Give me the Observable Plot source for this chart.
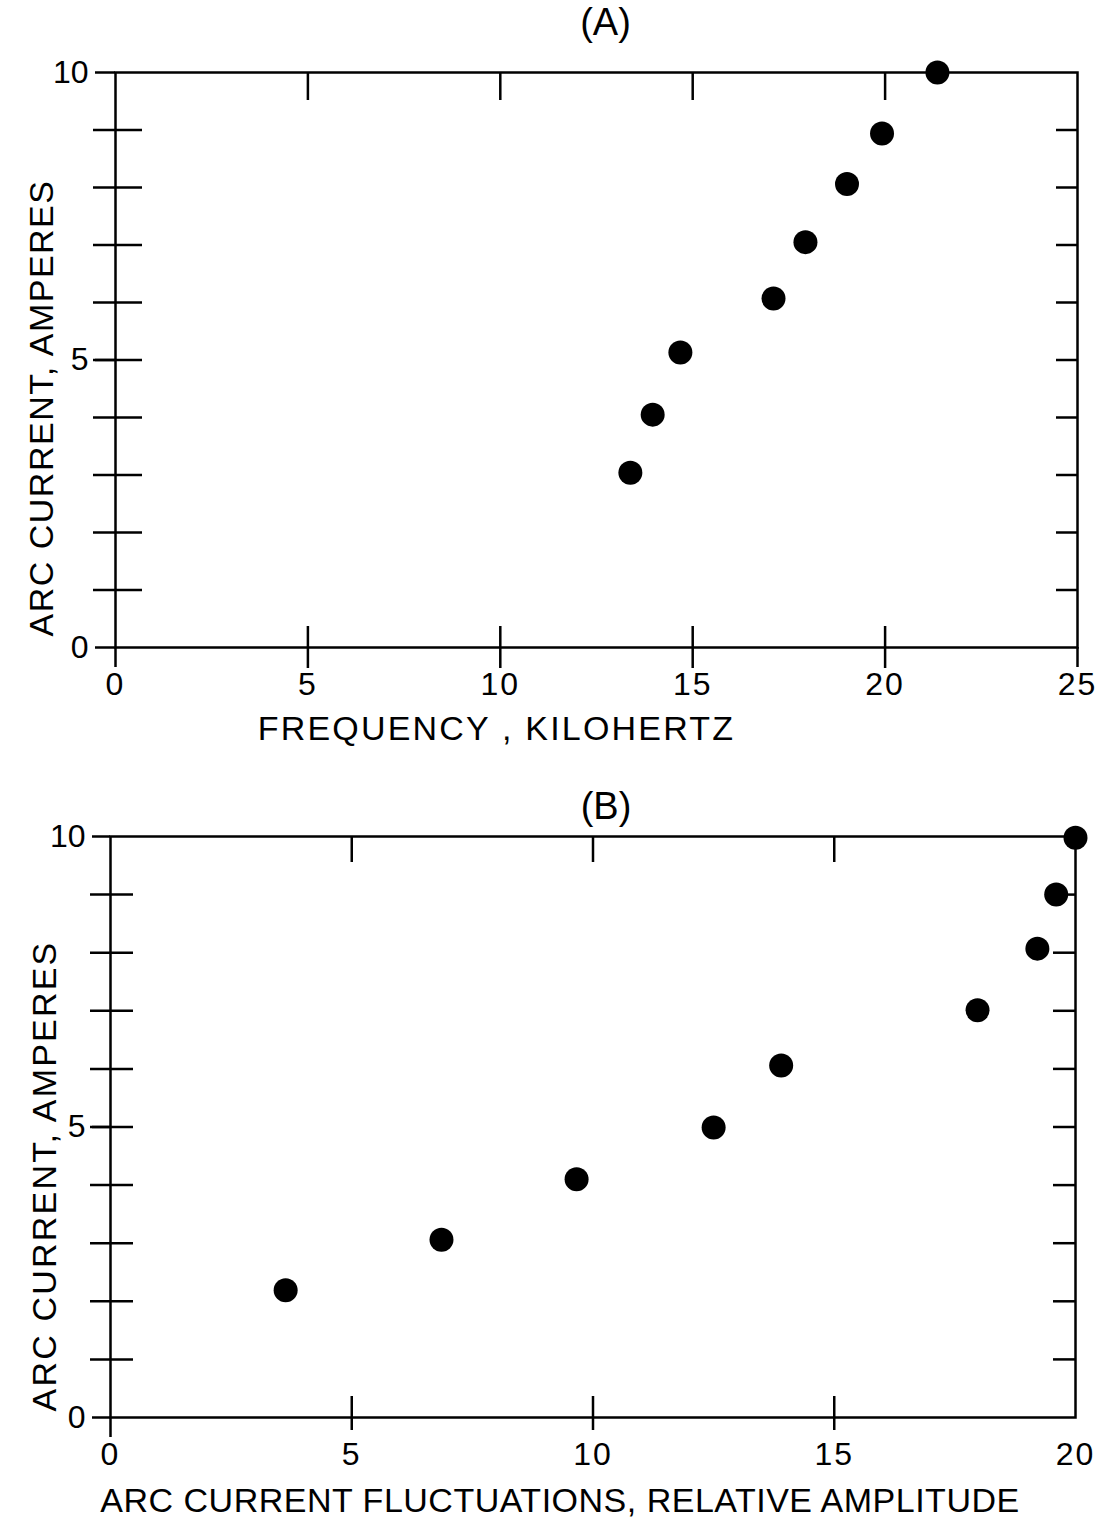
<!DOCTYPE html>
<html><head><meta charset="utf-8">
<script src="https://cdn.jsdelivr.net/npm/d3@7"></script>
<script src="https://cdn.jsdelivr.net/npm/@observablehq/plot@0.6"></script>
<style>
body{margin:0;background:#fff}
#chart svg{display:block}
[aria-label="x-title-A"], [aria-label="x-title-A"] text{letter-spacing:2.2px}
[aria-label="y-title-A"], [aria-label="y-title-A"] text{letter-spacing:1.5px}
[aria-label="x-title-B"], [aria-label="x-title-B"] text{letter-spacing:0.5px}
[aria-label="y-title-B"], [aria-label="y-title-B"] text{letter-spacing:2.2px}
g[aria-label="x-axis tick label"] text{letter-spacing:2px}
</style>
</head><body><div id="chart"></div>
<script>
// Panel (A): arc current vs frequency
const freqA = [13.38, 13.96, 14.68, 17.10, 17.93, 19.01, 19.92, 21.36];
const currentA = [3.04, 4.05, 5.13, 6.07, 7.05, 8.06, 8.94, 10.0];
// Panel (B): arc current vs relative amplitude of fluctuations
const fluctB = [3.63, 6.86, 9.66, 12.5, 13.9, 17.97, 19.21, 19.6, 20.0];
const currentB = [2.19, 3.06, 4.10, 4.99, 6.06, 7.01, 8.07, 9.0, 9.98];

const yLabelTicks = [0, 5, 10];
const yMinorTicks = [1, 2, 3, 4, 5, 6, 7, 8, 9];
const xLabelTicksA = [0, 5, 10, 15, 20, 25];
const xInnerTicksA = [5, 10, 15, 20];
const xLabelTicksB = [0, 5, 10, 15, 20];
const xInnerTicksB = [5, 10, 15];

const titleA = "(A)";
const titleB = "(B)";
const xTitleA = "FREQUENCY , KILOHERTZ";
const xTitleB = "ARC CURRENT FLUCTUATIONS, RELATIVE AMPLITUDE";
const yTitle = "ARC CURRENT, AMPERES";

const FONT = "Liberation Sans, DejaVu Sans, sans-serif";
const SW = 2.5;

function panel({id, xs, ys, xMax, xLabelTicks, xInner, title, xTitle, height, m, t}) {
  const data = xs.map((x, i) => ({x, y: ys[i]}));
  const svg = Plot.plot({
    width: 1108,
    height,
    marginTop: m.top, marginBottom: m.bottom, marginLeft: m.left, marginRight: m.right,
    x: {domain: [0, xMax], label: null},
    y: {domain: [0, 10], label: null},
    style: {fontFamily: FONT, fontSize: "32px", color: "black", background: "white"},
    marks: [
      Plot.frame({stroke: "black", strokeWidth: SW}),
      // left axis: crossing ticks
      Plot.axisY({anchor: "left", ticks: yMinorTicks, tickSize: t.leftOut + t.leftIn, insetLeft: t.leftIn, text: null, label: null, strokeWidth: SW}),
      // left axis: labelled stubs
      Plot.axisY({anchor: "left", ticks: yLabelTicks, tickSize: t.leftOut - 2, tickPadding: 7, label: null, strokeWidth: SW, fontSize: 32}),
      // right axis: inward ticks
      Plot.axisY({anchor: "right", ticks: yMinorTicks, tickSize: t.right, insetRight: t.right, text: null, label: null, strokeWidth: SW}),
      // top axis: inward ticks
      Plot.axisX({anchor: "top", ticks: xInner, tickSize: t.top, insetTop: t.top, text: null, label: null, strokeWidth: SW}),
      // bottom axis: crossing ticks
      Plot.axisX({anchor: "bottom", ticks: xInner, tickSize: t.botUp + t.botDown, insetBottom: t.botUp, text: null, label: null, strokeWidth: SW}),
      // bottom axis: labels
      Plot.axisX({anchor: "bottom", ticks: xLabelTicks, tickSize: 0, tickPadding: 25, label: null, fontSize: 32}),
      // bottom axis: stubs
      Plot.axisX({anchor: "bottom", ticks: t.stubs, tickSize: 20, text: null, label: null, strokeWidth: SW}),
      Plot.dot(data, {x: "x", y: "y", r: 12, fill: "black", stroke: null}),
      Plot.text([title], {frameAnchor: "top", textAnchor: "middle", dx: t.titleDx, dy: t.titleDy, fontSize: 38, lineAnchor: "middle"}),
      Plot.text([xTitle], {ariaLabel: () => `x-title-${id}`, frameAnchor: "bottom", textAnchor: "middle", dx: t.xtDx, dy: t.xtDy, fontSize: 34, lineAnchor: "middle"}),
      Plot.text([yTitle], {ariaLabel: () => `y-title-${id}`, frameAnchor: "left", textAnchor: "middle", dx: t.ytDx, dy: t.ytDy, fontSize: 34, rotate: -90, lineAnchor: "middle"})
    ]
  });
  // letter spacing of the hand-lettered axis titles
  d3.select(svg).selectAll("text")
    .filter(function() { return this.textContent === xTitle; })
    .style("letter-spacing", `${t.xtLs}px`);
  d3.select(svg).selectAll("text")
    .filter(function() { return this.textContent === yTitle; })
    .style("letter-spacing", `${t.ytLs}px`);
  return svg;
}

const chart = document.getElementById("chart");
chart.append(panel({
  id: "A", xs: freqA, ys: currentA, xMax: 25, xLabelTicks: xLabelTicksA, xInner: xInnerTicksA,
  title: titleA, xTitle: xTitleA, height: 760,
  m: {top: 72, bottom: 113, left: 115, right: 31},
  t: {leftOut: 22, leftIn: 27, right: 22, top: 27, botUp: 21, botDown: 21, stubs: [0, 25],
      titleDx: 9, titleDy: -50, xtDx: -100, xtDy: 82, xtLs: 2.2, ytDx: -73, ytDy: 48, ytLs: 1.5}
}));
chart.append(panel({
  id: "B", xs: fluctB, ys: currentB, xMax: 20, xLabelTicks: xLabelTicksB, xInner: xInnerTicksB,
  title: titleB, xTitle: xTitleB, height: 767,
  m: {top: 76, bottom: 110, left: 110, right: 33},
  t: {leftOut: 20, leftIn: 23, right: 23, top: 25, botUp: 21, botDown: 13, stubs: [0],
      titleDx: 13, titleDy: -30, xtDx: -33, xtDy: 84, xtLs: 0.5, ytDx: -65, ytDy: 49, ytLs: 2.2}
}));
</script>
</body></html>
